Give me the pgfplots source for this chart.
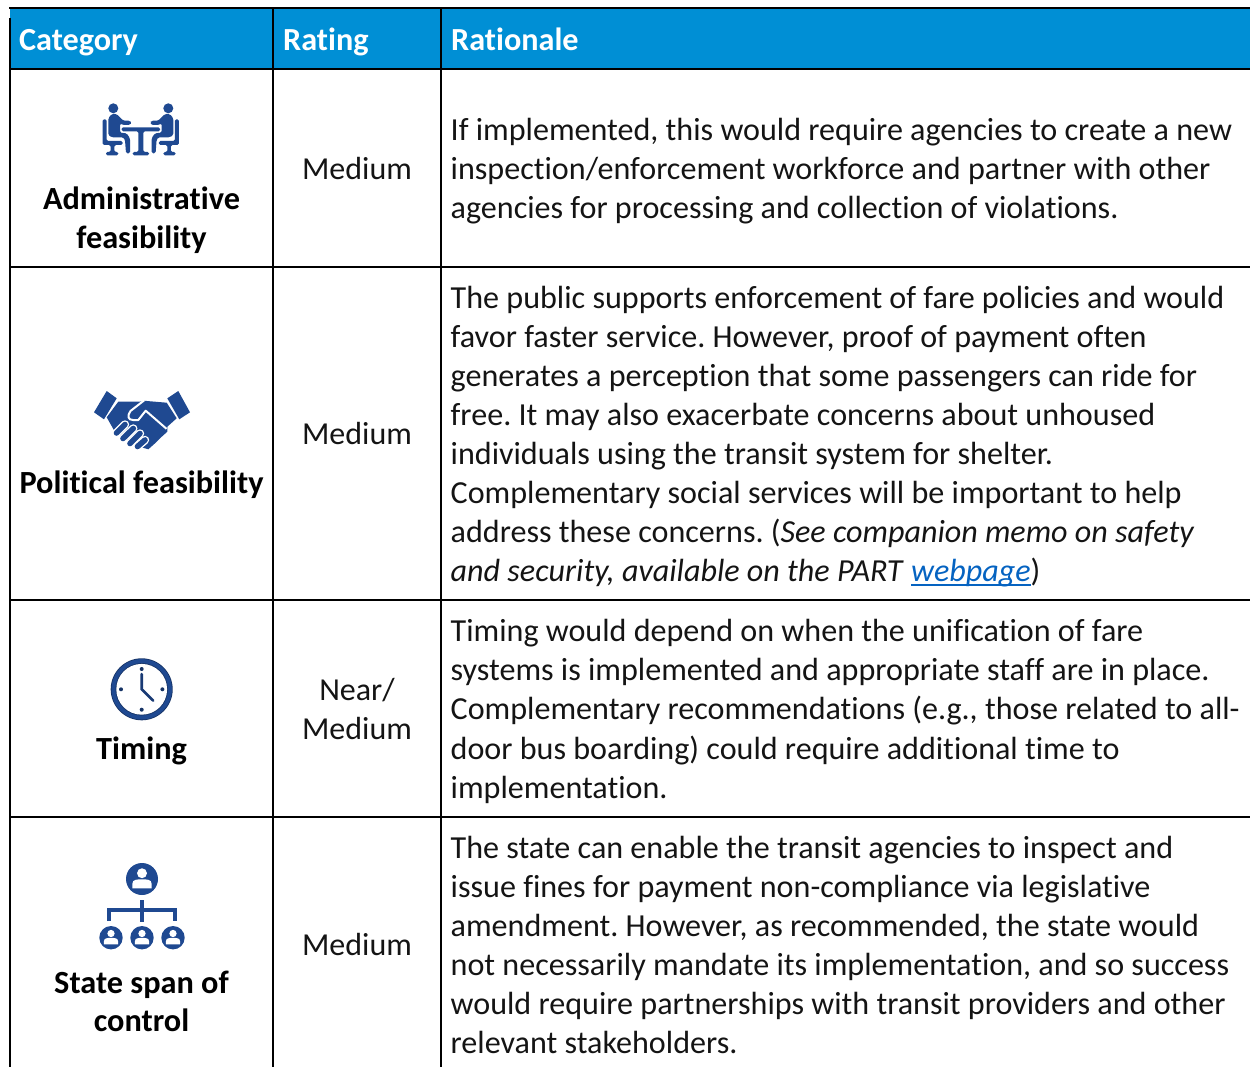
\documentclass[border=0pt]{standalone}
\usepackage{fontspec}
\usepackage{pgfplots}
\pgfplotsset{compat=1.18}
\setmainfont{Carlito}[Ligatures={NoCommon}]
\frenchspacing
\definecolor{hdr}{RGB}{0,143,213}
\definecolor{icon}{RGB}{31,73,145}
\definecolor{ink}{RGB}{20,20,20}
\definecolor{link}{RGB}{5,99,193}
\newlength\ulw
\newcommand\ulink[1]{\settowidth{\ulw}{#1}\rlap{\rule[-4.4pt]{\ulw}{1.5pt}}#1}
\newcommand\RowT[3]{\node[anchor=base west,inner sep=0pt,text=ink] at (#1,#2) {\fontsize{32.1}{38}\selectfont #3};}
\newcommand\RowC[3]{\node[anchor=base,inner sep=0pt,text=ink] at (#1,#2) {\fontsize{32}{38}\selectfont #3};}
\newcommand\RowB[3]{\node[anchor=base,inner sep=0pt,text=black] at (#1,#2) {\fontsize{32.3}{38}\selectfont\bfseries #3};}
\newcommand\RowH[2]{\node[anchor=base west,inner sep=0pt,text=white] at (#1,50.5) {\fontsize{32.2}{38}\selectfont\bfseries #2};}
\newcommand\adminhalf[1]{%
  \fill[icon] ({140.8+(#1)*27.5},108.3) circle[radius=5];
  \fill[icon,rounded corners=1.5pt] ({140.8+(#1)*38.1},119.3) -- ({140.8+(#1)*34.1},119.3) -- ({140.8+(#1)*34.1},141) -- ({140.8+(#1)*18.1},141) -- ({140.8+(#1)*18.1},145) -- ({140.8+(#1)*26.5},145) -- ({140.8+(#1)*26.5},152) -- ({140.8+(#1)*22.5},152) -- ({140.8+(#1)*22.5},155.3) -- ({140.8+(#1)*34.8},155.3) -- ({140.8+(#1)*34.8},152) -- ({140.8+(#1)*30.1},152) -- ({140.8+(#1)*30.1},145) -- ({140.8+(#1)*38.1},145) -- cycle;
  \fill[icon,rounded corners=1.5pt] ({140.8+(#1)*32.5},118.3) -- ({140.8+(#1)*29.1},114) -- ({140.8+(#1)*24.1},114) -- ({140.8+(#1)*17.5},120.7) -- ({140.8+(#1)*10.8},120.7) -- ({140.8+(#1)*9.1},122.7) -- ({140.8+(#1)*10.8},125) -- ({140.8+(#1)*18.1},125) -- ({140.8+(#1)*20.8},123.3) -- ({140.8+(#1)*20.8},132.7) -- ({140.8+(#1)*14.1},133.3) -- ({140.8+(#1)*10.8},138.3) -- ({140.8+(#1)*10.8},153.3) -- ({140.8+(#1)*14.8},153.3) -- ({140.8+(#1)*15.8},140) -- ({140.8+(#1)*17.5},137.3) -- ({140.8+(#1)*29.1},137.3) -- ({140.8+(#1)*32.5},135) -- cycle;
}
\newcommand\finger[4]{%
  \draw[white,line width=8.4pt,line cap=round] (#1,#2) -- (#3,#4);
  \draw[icon,line width=5.6pt,line cap=round] (#1,#2) -- (#3,#4);
}
\newcommand\orgperson[3]{%
  \fill[icon] (#1,#2) circle[radius=#3];
  \fill[white] (#1,{#2-0.36*#3}) circle[radius={0.31*#3}];
  \fill[white] ({#1-0.6*#3},{#2+0.58*#3}) -- ({#1-0.6*#3},{#2+0.3*#3}) .. controls ({#1-0.6*#3},{#2+0.02*#3}) and ({#1-0.3*#3},{#2+0.02*#3}) .. (#1,{#2+0.02*#3}) .. controls ({#1+0.3*#3},{#2+0.02*#3}) and ({#1+0.6*#3},{#2+0.02*#3}) .. ({#1+0.6*#3},{#2+0.3*#3}) -- ({#1+0.6*#3},{#2+0.58*#3}) -- cycle;
}
\begin{document}
\begin{tikzpicture}[x=1pt,y=1pt]
\begin{axis}[
  at={(0pt,0pt)},anchor=south west,
  scale only axis,width=1250pt,height=1067pt,
  xmin=0,xmax=1250,ymin=0,ymax=1067,y dir=reverse,
  hide axis,clip=false]
\useasboundingbox (0,0) rectangle (1250,1067);
% header band and table rules
\addplot[fill=hdr,draw=none] coordinates {(10,9) (1250,9) (1250,69) (10,69)} -- cycle;
\addplot[black,line width=2pt] coordinates {(9,8.5) (1250,8.5)};
\addplot[black,line width=2pt] coordinates {(10,18) (10,1067)};
\addplot[black,line width=2pt] coordinates {(273,8.5) (273,1067)};
\addplot[black,line width=2pt] coordinates {(441,8.5) (441,1067)};
\addplot[black,line width=2pt] coordinates {(10,69) (1250,69)};
\addplot[black,line width=2pt] coordinates {(10,267) (1250,267)};
\addplot[black,line width=2pt] coordinates {(10,600) (1250,600)};
\addplot[black,line width=2pt] coordinates {(10,817) (1250,817)};
% header
\RowH{19}{Category}
\RowH{283}{Rating}
\RowH{451}{Rationale}
% ratings
\RowC{357}{180}{Medium}
\RowC{357}{444.5}{Medium}
\RowC{357}{700}{Near/}
\RowC{357}{739}{Medium}
\RowC{357}{955}{Medium}
% categories
\RowB{141.5}{209.5}{Administrative}
\RowB{141.5}{248.5}{feasibility}
\RowB{141.5}{493}{Political feasibility}
\RowB{141.5}{759}{Timing}
\RowB{141.5}{993}{State span of}
\RowB{141.5}{1031}{control}
% rationale
\RowT{450.5}{141}{If implemented, this would require agencies to create a new}
\RowT{450.5}{180}{inspection/enforcement workforce and partner with other}
\RowT{450.5}{219}{agencies for processing and collection of violations.}
\RowT{450.5}{308.3}{The public supports enforcement of fare policies and would}
\RowT{450.5}{347.3}{favor faster service. However, proof of payment often}
\RowT{450.5}{386.3}{generates a perception that some passengers can ride for}
\RowT{450.5}{425.3}{free. It may also exacerbate concerns about unhoused}
\RowT{450.5}{464.3}{individuals using the transit system for shelter.}
\RowT{450.5}{503.3}{Complementary social services will be important to help}
\RowT{450.5}{542.3}{address these concerns. (\textit{See companion memo on safety}}
\RowT{450.5}{581.3}{\textit{and security, available on the PART }\textcolor{link}{\ulink{\textit{webpage}}})}
\RowT{450.5}{641}{Timing would depend on when the unification of fare}
\RowT{450.5}{680}{systems is implemented and appropriate staff are in place.}
\RowT{450.5}{719}{Complementary recommendations (e.g., those related to all-}
\RowT{450.5}{759}{door bus boarding) could require additional time to}
\RowT{450.5}{798}{implementation.}
\RowT{450.5}{858}{The state can enable the transit agencies to inspect and}
\RowT{450.5}{897}{issue fines for payment non-compliance via legislative}
\RowT{450.5}{936}{amendment. However, as recommended, the state would}
\RowT{450.5}{975}{not necessarily mandate its implementation, and so success}
\RowT{450.5}{1014}{would require partnerships with transit providers and other}
\RowT{450.5}{1053}{relevant stakeholders.}
% icon: administrative
\adminhalf{-1}
\adminhalf{1}
\fill[icon,rounded corners=1.5pt] (121.7,127.3) -- (160,127.3) -- (160,131.3) -- (143.3,131.3) -- (143.3,152) -- (149,152) -- (149,155.3) -- (132.7,155.3) -- (132.7,152) -- (138.3,152) -- (138.3,131.3) -- (121.7,131.3) -- cycle;
% icon: handshake
\fill[icon] (94,412.3) -- (106.7,391) -- (116.7,398.3) -- (104,419.3) -- cycle;
\fill[icon] (190,412.3) -- (178.3,391) -- (167.3,398.3) -- (179.3,419.3) -- cycle;
\fill[icon] (118.3,401.7) -- (140,401.7) -- (143.3,400.7) -- (166.7,402.7) -- (176.7,418.3) -- (167.3,426.7) -- (167.3,431.7) -- (160,438.3) -- (155,443.3) -- (148.3,449.3) -- (137,446) -- (115,432) -- (106.7,417.3) -- cycle;
\draw[white,line width=2pt,line join=round] (144,400.5) -- (130.5,411) .. controls (127,416) and (128,420) .. (133,420) -- (138.3,420) -- (145.7,410.7) -- (166.5,428.8);
\finger{116.5}{433}{125}{424.5}
\finger{123}{438.5}{133.3}{428.5}
\finger{130}{443.5}{140}{433.5}
\finger{137.5}{446.5}{145}{440}
% icon: clock
\fill[icon!70!black] (141.7,689.3) circle[radius=31];
\fill[icon] (141.7,689.3) circle[radius=30.2];
\fill[icon!70!black] (141.7,689.3) circle[radius=26.2];
\fill[white] (141.7,689.3) circle[radius=25.4];
\fill[icon!70!black] (141.7,669) circle[radius=2];
\fill[icon!70!black] (141.7,709.7) circle[radius=2];
\fill[icon!70!black] (121,689.3) circle[radius=2];
\fill[icon!70!black] (162.4,689.3) circle[radius=2];
\draw[icon!80!black,line width=2.6pt,line cap=round,line join=miter] (141.7,674) -- (141.7,689.3) -- (153.3,700.7);
% icon: organisation
\orgperson{142}{879}{16}
\orgperson{111}{937.7}{11.7}
\orgperson{142}{937.7}{11.7}
\orgperson{173}{937.7}{11.7}
\draw[icon,line width=3.4pt] (142,900) -- (142,922);
\draw[icon,line width=3.4pt,line join=miter] (109,921) -- (109,910) -- (175,910) -- (175,921);
\end{axis}
\end{tikzpicture}
\end{document}
